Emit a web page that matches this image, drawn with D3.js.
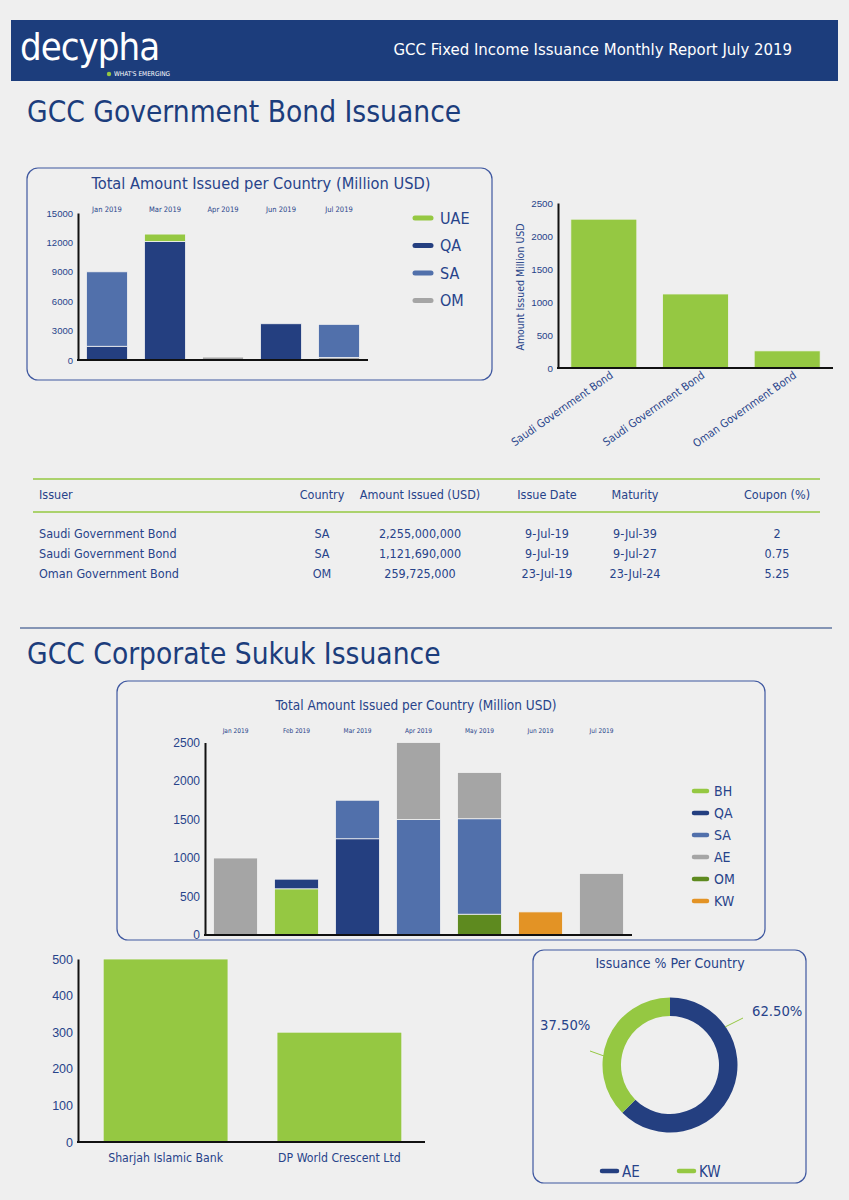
<!DOCTYPE html>
<html><head><meta charset="utf-8">
<script src="https://cdn.jsdelivr.net/npm/d3@7"></script>
<style>
body{margin:0;background:#efefef;}
svg{display:block;font-family:"DejaVu Sans Condensed","Open Sans",sans-serif;}
</style>
</head><body><svg id="c" width="849" height="1200"></svg>
<script>
// ---------------- DATA ----------------
const govMonths = ["Jan 2019","Mar 2019","Apr 2019","Jun 2019","Jul 2019"];
const govLegend = ["UAE","QA","SA","OM"];
const govStackOrder = ["OM","QA","SA","UAE"];
const govUAE = [0, 750, 0, 0, 0];
const govQA  = [1400, 12100, 0, 3700, 0];
const govSA  = [7600, 0, 0, 0, 3377];
const govOM  = [0, 0, 300, 0, 260];
const govTicks = [0,3000,6000,9000,12000,15000];

const bondNames = ["Saudi Government Bond","Saudi Government Bond","Oman Government Bond"];
const bondAmounts = [2255, 1121.69, 259.725];
const bondTicks = [0,500,1000,1500,2000,2500];

const tableHeaders = ["Issuer","Country","Amount Issued (USD)","Issue Date","Maturity","Coupon (%)"];
const tableIssuer = ["Saudi Government Bond","Saudi Government Bond","Oman Government Bond"];
const tableCountry = ["SA","SA","OM"];
const tableAmount = ["2,255,000,000","1,121,690,000","259,725,000"];
const tableIssue = ["9-Jul-19","9-Jul-19","23-Jul-19"];
const tableMaturity = ["9-Jul-39","9-Jul-27","23-Jul-24"];
const tableCoupon = ["2","0.75","5.25"];

const sukukMonths = ["Jan 2019","Feb 2019","Mar 2019","Apr 2019","May 2019","Jun 2019","Jul 2019"];
const sukukLegend = ["BH","QA","SA","AE","OM","KW"];
const sukukStackOrder = ["OM","KW","BH","QA","SA","AE"];
const sukukBH = [0, 600, 0, 0, 0, 0, 0];
const sukukQA = [0, 125, 1250, 0, 0, 0, 0];
const sukukSA = [0, 0, 500, 1500, 1240, 0, 0];
const sukukAE = [1000, 0, 0, 1000, 600, 0, 800];
const sukukOM = [0, 0, 0, 0, 270, 0, 0];
const sukukKW = [0, 0, 0, 0, 0, 300, 0];
const sukukTicks = [0,500,1000,1500,2000,2500];

const corpIssuers = ["Sharjah Islamic Bank","DP World Crescent Ltd"];
const corpAmounts = [500, 300];
const corpTicks = [0,100,200,300,400,500];

const donutLabels = ["AE","KW"];
const donutValues = [62.5, 37.5];

// ---------------- STYLE ----------------
const NAVY="#243f80", MID="#5170ab", GREEN="#95c842", GRAY="#a5a5a5", OLIVE="#5e8a1f", ORANGE="#e39325";
const TXT="#27438a", BOX="#3f58a0", HEAD="#1c3d7c";

const svg = d3.select("#c");
svg.append("rect").attr("width",849).attr("height",1200).attr("fill","#efefef");

// Header
svg.append("rect").attr("x",11).attr("y",20).attr("width",827).attr("height",61).attr("fill",HEAD);
const logo = svg.append("text").attr("x",20).attr("y",60).attr("fill","#fff")
  .style("font-size","38px").style("letter-spacing","-1px");
logo.append("tspan").text("decy");
logo.append("tspan").text("p");
logo.append("tspan").text("ha");
svg.append("circle").attr("cx",109).attr("cy",74).attr("r",2.2).attr("fill",GREEN);
svg.append("text").attr("x",114).attr("y",76).attr("fill","#fff").style("font-size","6.5px").text("WHAT'S EMERGING");
svg.append("text").attr("x",792).attr("y",55).attr("text-anchor","end").attr("fill","#fff")
  .style("font-size","16.6px").text("GCC Fixed Income Issuance Monthly Report July 2019");

// Section headings
svg.append("text").attr("x",27).attr("y",122).attr("fill",HEAD).style("font-size","29.6px").text("GCC Government Bond Issuance");
svg.append("text").attr("x",27).attr("y",664).attr("fill",HEAD).style("font-size","29.6px").text("GCC Corporate Sukuk Issuance");
svg.append("line").attr("x1",20).attr("x2",832).attr("y1",628).attr("y2",628).attr("stroke",HEAD).attr("stroke-width",1.2);

function box(x,y,w,h){
  svg.append("rect").attr("x",x).attr("y",y).attr("width",w).attr("height",h).attr("rx",11)
    .attr("fill","none").attr("stroke",BOX).attr("stroke-width",1.2);
}
function yAxis(g, y, x0, ticks, fs){
  const ax = d3.axisLeft(y).tickValues(ticks).tickSize(0).tickPadding(5).tickFormat(d3.format("d"));
  const a = g.append("g").attr("transform",`translate(${x0},0)`).call(ax);
  a.select(".domain").attr("stroke","#111").attr("stroke-width",2);
  a.selectAll("text").attr("fill",TXT).style("font-size",fs).style("font-family","inherit");
  return a;
}
function xLine(g, x1, x2, y0){
  g.append("line").attr("x1",x1-1).attr("x2",x2).attr("y1",y0).attr("y2",y0).attr("stroke","#111").attr("stroke-width",2);
}

// ---------------- Chart 1: Gov stacked ----------------
box(27,168,465,212);
svg.append("text").attr("x",261).attr("y",189).attr("text-anchor","middle").attr("fill",TXT)
  .style("font-size","16.3px").text("Total Amount Issued per Country (Million USD)");
{
  const g = svg.append("g");
  const colors = {UAE:GREEN, QA:NAVY, SA:MID, OM:GRAY};
  const rows = govMonths.map((m,i)=>({m, UAE:govUAE[i], QA:govQA[i], SA:govSA[i], OM:govOM[i]}));
  const x = d3.scaleBand().domain(govMonths).range([78,368]).paddingInner(0.293).paddingOuter(0.146);
  const y = d3.scaleLinear().domain([0,15000]).range([360,213]);
  const series = d3.stack().keys(govStackOrder)(rows);
  g.selectAll("g.s").data(series).join("g").attr("fill",d=>colors[d.key])
    .selectAll("rect").data(d=>d).join("rect")
    .attr("x",d=>x(d.data.m)).attr("width",x.bandwidth())
    .attr("y",d=>y(d[1])).attr("height",d=>Math.max(0,y(d[0])-y(d[1])))
    .attr("stroke","#f2f2f2").attr("stroke-width",0.8);
  yAxis(g,y,78,govTicks,"9.5px");
  xLine(g,78,368,360);
  g.selectAll("text.mon").data(govMonths).join("text").attr("class","mon")
    .attr("x",d=>x(d)+x.bandwidth()/2).attr("y",212).attr("text-anchor","middle")
    .attr("fill",TXT).style("font-size","7.5px").text(d=>d);
  const lg = g.selectAll("g.lg").data(govLegend).join("g").attr("transform",(d,i)=>`translate(0,${218+i*27.5})`);
  lg.append("line").attr("x1",415).attr("x2",431).attr("y1",0).attr("y2",0)
    .attr("stroke",d=>colors[d]).attr("stroke-width",5).attr("stroke-linecap","round");
  lg.append("text").attr("x",440).attr("y",5.5).attr("fill",TXT).style("font-size","16px").text(d=>d);
}

// ---------------- Chart 2: bond amounts ----------------
{
  const g = svg.append("g");
  const idx = bondNames.map((d,i)=>i);
  const x = d3.scaleBand().domain(idx).range([558,833]).paddingInner(0.28).paddingOuter(0.14);
  const y = d3.scaleLinear().domain([0,2500]).range([368,203]);
  g.selectAll("rect").data(idx).join("rect")
    .attr("x",i=>x(i)).attr("width",x.bandwidth()).attr("y",i=>y(bondAmounts[i]))
    .attr("height",i=>y(0)-y(bondAmounts[i])).attr("fill",GREEN).attr("stroke","#f2f2f2").attr("stroke-width",0.8);
  yAxis(g,y,558,bondTicks,"9.8px");
  xLine(g,558,833,368);
  g.selectAll("text.xl").data(idx).join("text").attr("class","xl")
    .attr("transform",i=>`translate(${x(i)+x.bandwidth()/2+10},${377}) rotate(-35)`)
    .attr("text-anchor","end").attr("fill",TXT).style("font-size","11px").text(i=>bondNames[i]);
  g.append("text").attr("transform","translate(524,287) rotate(-90)").attr("text-anchor","middle")
    .attr("fill",TXT).style("font-size","10.5px").text("Amount Issued Million USD");
}

// ---------------- Table ----------------
{
  const g = svg.append("g");
  g.append("line").attr("x1",33).attr("x2",820).attr("y1",479).attr("y2",479).attr("stroke",GREEN).attr("stroke-width",1.5);
  g.append("line").attr("x1",33).attr("x2",820).attr("y1",512).attr("y2",512).attr("stroke",GREEN).attr("stroke-width",1.5);
  const colX = [39,322,420,547,635,777];
  const anchors = ["start","middle","middle","middle","middle","middle"];
  tableHeaders.forEach((h,i)=>{
    g.append("text").attr("x",colX[i]).attr("y",499).attr("text-anchor",anchors[i]).attr("fill",TXT)
      .style("font-size","12.5px").text(h);
  });
  const cols = [tableIssuer,tableCountry,tableAmount,tableIssue,tableMaturity,tableCoupon];
  tableIssuer.forEach((_,r)=>{
    cols.forEach((c,i)=>{
      g.append("text").attr("x",colX[i]).attr("y",538+r*20).attr("text-anchor",anchors[i]).attr("fill",TXT)
        .style("font-size","12.5px").text(c[r]);
    });
  });
}

// ---------------- Chart 3: Sukuk stacked ----------------
box(117,681,648,259);
svg.append("text").attr("x",416).attr("y",710).attr("text-anchor","middle").attr("fill",TXT)
  .style("font-size","13.5px").text("Total Amount Issued per Country (Million USD)");
{
  const g = svg.append("g");
  const colors = {BH:GREEN, QA:NAVY, SA:MID, AE:GRAY, OM:OLIVE, KW:ORANGE};
  const rows = sukukMonths.map((m,i)=>({m, BH:sukukBH[i], QA:sukukQA[i], SA:sukukSA[i], AE:sukukAE[i], OM:sukukOM[i], KW:sukukKW[i]}));
  const x = d3.scaleBand().domain(sukukMonths).range([205,632]).paddingInner(0.28).paddingOuter(0.14);
  const y = d3.scaleLinear().domain([0,2500]).range([935,742.5]);
  const series = d3.stack().keys(sukukStackOrder)(rows);
  g.selectAll("g.s").data(series).join("g").attr("fill",d=>colors[d.key])
    .selectAll("rect").data(d=>d).join("rect")
    .attr("x",d=>x(d.data.m)).attr("width",x.bandwidth())
    .attr("y",d=>y(d[1])).attr("height",d=>Math.max(0,y(d[0])-y(d[1])))
    .attr("stroke","#f2f2f2").attr("stroke-width",0.8);
  yAxis(g,y,205,sukukTicks,"12px");
  xLine(g,205,632,935);
  g.selectAll("text.mon").data(sukukMonths).join("text").attr("class","mon")
    .attr("x",d=>x(d)+x.bandwidth()/2).attr("y",733).attr("text-anchor","middle")
    .attr("fill",TXT).style("font-size","6.5px").text(d=>d);
  const lg = g.selectAll("g.lg").data(sukukLegend).join("g").attr("transform",(d,i)=>`translate(0,${791+i*22})`);
  lg.append("line").attr("x1",694).attr("x2",707).attr("y1",0).attr("y2",0)
    .attr("stroke",d=>colors[d]).attr("stroke-width",4.5).attr("stroke-linecap","round");
  lg.append("text").attr("x",714).attr("y",5).attr("fill",TXT).style("font-size","14px").text(d=>d);
}

// ---------------- Chart 4: corporate bars ----------------
{
  const g = svg.append("g");
  const x = d3.scaleBand().domain(corpIssuers).range([78,427]).paddingInner(0.282).paddingOuter(0.145);
  const y = d3.scaleLinear().domain([0,500]).range([1142,959]);
  g.selectAll("rect").data(corpIssuers).join("rect")
    .attr("x",d=>x(d)).attr("width",x.bandwidth()).attr("y",(d,i)=>y(corpAmounts[i]))
    .attr("height",(d,i)=>y(0)-y(corpAmounts[i])).attr("fill",GREEN).attr("stroke","#f2f2f2").attr("stroke-width",0.8);
  yAxis(g,y,78,corpTicks,"12.5px");
  xLine(g,78,425,1142);
  g.selectAll("text.xl").data(corpIssuers).join("text").attr("class","xl")
    .attr("x",d=>x(d)+x.bandwidth()/2).attr("y",1162).attr("text-anchor","middle")
    .attr("fill",TXT).style("font-size","12.2px").text(d=>d);
}

// ---------------- Chart 5: donut ----------------
box(533,950,273,233);
svg.append("text").attr("x",670).attr("y",968).attr("text-anchor","middle").attr("fill",TXT)
  .style("font-size","14px").text("Issuance % Per Country");
{
  const cx=670, cy=1065;
  const g = svg.append("g").attr("transform",`translate(${cx},${cy})`);
  const colors = {AE:NAVY, KW:GREEN};
  const pie = d3.pie().sort(null).value((d,i)=>donutValues[i]);
  const arcs = pie(donutLabels);
  const arc = d3.arc().innerRadius(49).outerRadius(67.5);
  g.selectAll("path").data(arcs).join("path").attr("d",arc).attr("fill",d=>colors[d.data]);
  const leaderStart = [[55,-38],[-66,-9]];
  const leaderEnd = [[73,-47],[-80,-14]];
  const labelPos = [[82,-49],[-130,-35]];
  arcs.forEach((a,i)=>{
    g.append("line").attr("x1",leaderStart[i][0]).attr("y1",leaderStart[i][1])
      .attr("x2",leaderEnd[i][0]).attr("y2",leaderEnd[i][1]).attr("stroke",GREEN).attr("stroke-width",1);
    g.append("text").attr("x",labelPos[i][0]).attr("y",labelPos[i][1])
      .attr("fill",TXT).style("font-size","14.7px").text(d3.format(".2f")(donutValues[i])+"%");
  });
  const lg = svg.selectAll("g.dl").data(donutLabels).join("g").attr("class","dl")
    .attr("transform",(d,i)=>`translate(${602+i*77},1171)`);
  lg.append("line").attr("x1",0).attr("x2",15).attr("y1",0).attr("y2",0)
    .attr("stroke",d=>colors[d]).attr("stroke-width",4.5).attr("stroke-linecap","round");
  lg.append("text").attr("x",20).attr("y",5.5).attr("fill",TXT).style("font-size","15px").text(d=>d);
}
</script></body></html>
